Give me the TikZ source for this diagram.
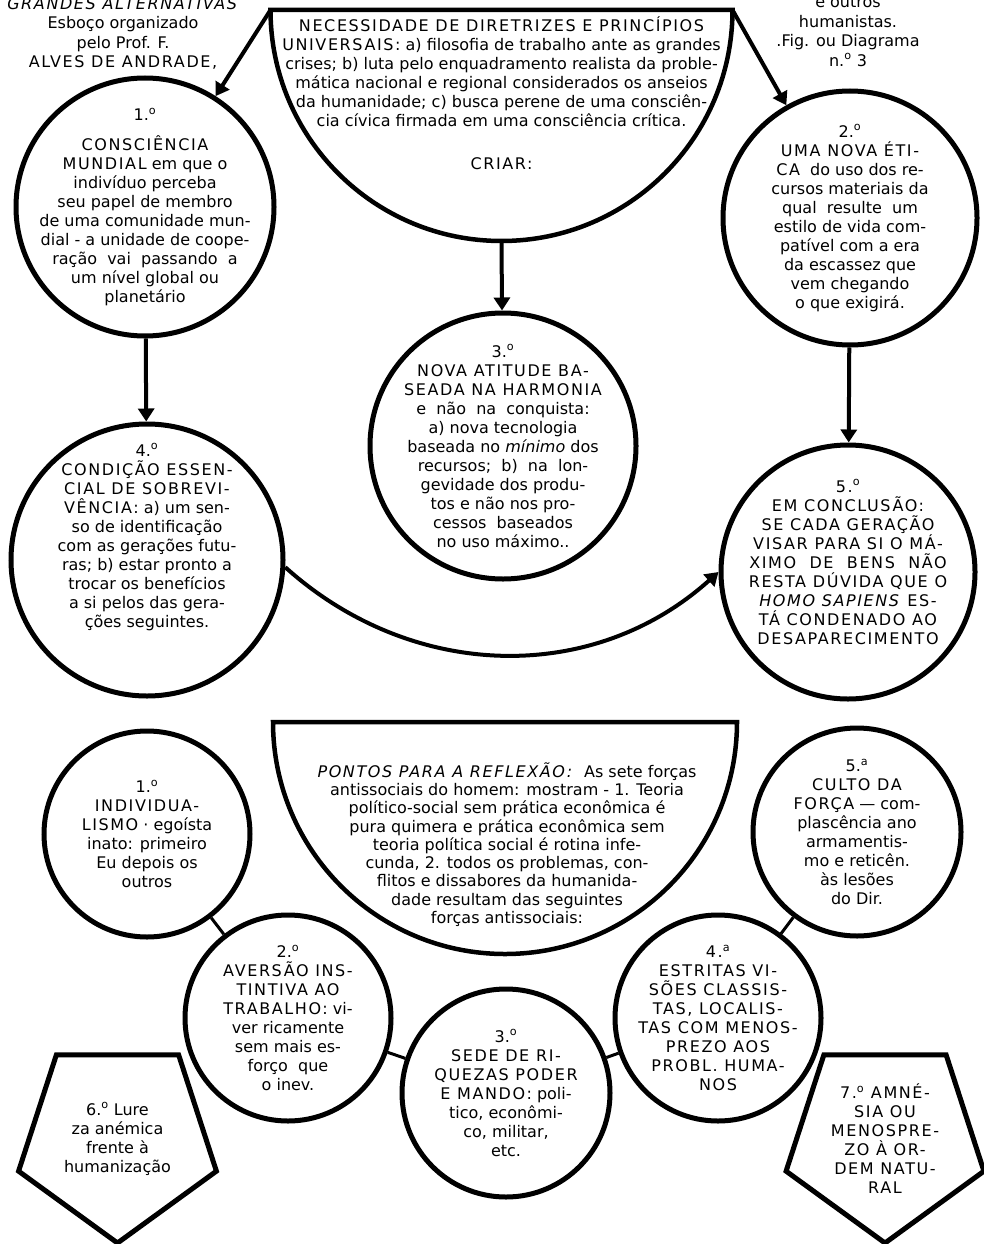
\documentclass[tikz,border=0pt]{standalone}
\usepackage{fontspec}
\setmainfont{DejaVu Sans}
\newfontfamily\capsf[LetterSpace=10]{DejaVu Sans}
\usetikzlibrary{arrows.meta, shapes.geometric, positioning}
\newcommand{\cp}[1]{{\capsf #1}}
\newcommand{\ordo}{\textsuperscript{o}}
\newcommand{\orda}{\textsuperscript{a}}
\newcommand{\bodyfont}{\fontsize{16pt}{19pt}\selectfont}
\newcommand{\headfont}{\fontsize{16pt}{19.5pt}\selectfont}
\newcommand{\pontosfont}{\fontsize{16pt}{18.3pt}\selectfont}

\tikzset{
  ring/.style={circle, draw, line width=5pt, inner sep=-45pt, minimum size=#1, align=center, font=\bodyfont},
  penta/.style={regular polygon, regular polygon sides=5, shape border rotate=180, draw, line width=5pt, inner sep=0pt, minimum size=208pt, align=center, font=\bodyfont},
  bowl/.style={draw, line width=4.5pt},
  note/.style={align=center, inner sep=0pt, font=\bodyfont},
  arr/.style={-{Triangle[width=16pt,length=13pt]}, line width=4pt},
  link/.style={line width=3pt}
}

\begin{document}
\begin{tikzpicture}[x=1pt, y=1pt]
\useasboundingbox (0,0) rectangle (983,-1244);

\node[note, font=\headfont] (author) at (123,-33.5) {\cp{\textit{GRANDES ALTERNATIVAS}}\\ Esboço organizado\\ pelo Prof. F.\\ \cp{ALVES DE ANDRADE,}};
\node[note, font=\headfont] (figref) at (848,-31.5) {e outros\\ humanistas.\\ .Fig. ou Diagrama\\ n.\ordo{} 3};

\coordinate (needL) at (270.5,-10);
\coordinate (needR) at (732.5,-10);
\coordinate (needB) at (501.5,-241);
\draw[bowl] (needL) -- (needR) arc[start angle=0, end angle=-180, radius=231pt] -- cycle;
\node[note] (need) at (501.5,-93.5) {\cp{NECESSIDADE DE DIRETRIZES E PRINCÍPIOS}\\
  \cp{UNIVERSAIS:} a) filosofia de trabalho ante as grandes\\
  crises; b) luta pelo enquadramento realista da proble-\\
  mática nacional e regional considerados os anseios\\
  da humanidade; c) busca perene de uma consciên-\\
  cia cívica firmada em uma consciência crítica.\\[24pt]
  \cp{CRIAR:}};

\node[ring=258pt] (c1) at (145,-207) {1.\ordo\\[11pt] \cp{CONSCIÊNCIA}\\ \cp{MUNDIAL} em que o\\ indivíduo perceba\\ seu papel de membro\\ de uma comunidade mun-\\ dial - a unidade de coope-\\ ração\ \ vai\ \ passando\ \ a\\ um nível global ou\\ planetário};
\node[ring=254pt] (c2) at (850,-218) {2.\ordo\\ \cp{UMA NOVA ÉTI-}\\ \cp{CA}\ \ do uso dos re-\\ cursos materiais da\\ qual\ \ resulte\ \ um\\ estilo de vida com-\\ patível com a era\\ da escassez que\\ vem chegando\\ o que exigirá.};
\node[ring=266pt] (c3) at (503,-446) {3.\ordo\\ \cp{NOVA ATITUDE BA-}\\ \cp{SEADA NA HARMONIA}\\ e\ \ não\ \ na\ \ conquista:\\ a) nova tecnologia\\ baseada no \textit{mínimo} dos\\ recursos;\ \ b)\ \ na\ \ lon-\\ gevidade dos produ-\\ tos e não nos pro-\\ cessos\ \ baseados\\ no uso máximo..};
\node[ring=272pt, inner sep=0pt] (c4) at (147,-560) {};
\node[note] (t4) at (147,-537) {4.\ordo\\ \cp{CONDIÇÃO ESSEN-}\\ \cp{CIAL DE SOBREVI-}\\ \cp{VÊNCIA:} a) um sen-\\ so de identificação\\ com as gerações futu-\\ ras; b) estar pronto a\\ trocar os benefícios\\ a si pelos das gera-\\ ções seguintes.};
\node[ring=254pt, inner sep=0pt] (c5) at (848,-572) {};
\node[note, font=\bodyfont\capsf] (t5) at (848,-562) {5.\ordo\\ EM CONCLUSÃO:\\ SE CADA GERAÇÃO\\ VISAR PARA SI O MÁ-\\ XIMO\ \ DE\ \ BENS\ \ NÃO\\ RESTA DÚVIDA QUE O\\ \textit{HOMO SAPIENS} ES-\\ TÁ CONDENADO AO\\ DESAPARECIMENTO};

\draw[arr] (needL) -- (c1);
\draw[arr] (needR) -- (c2);
\draw[arr] (needB) -- (c3);
\draw[arr] (c1) -- (c4);
\draw[arr] (c2) -- (c5);
\draw[arr] (c4.-3) to[out=-42, in=222] (c5.west);

\coordinate (ptsL) at (273,-722);
\coordinate (ptsR) at (737,-722);
\draw[bowl] (ptsL) -- (ptsR) arc[start angle=0, end angle=-180, radius=232pt] -- cycle;
\node[note, font=\pontosfont] (pts) at (507,-844.5) {\cp{\textit{PONTOS PARA A REFLEXÃO:}}\ \ As sete forças\\
  antissociais do homem: mostram - 1. Teoria\\
  político-social sem prática econômica é\\
  pura quimera e prática econômica sem\\
  teoria política social é rotina infe-\\
  cunda, 2. todos os problemas, con-\\
  flitos e dissabores da humanida-\\
  dade resultam das seguintes\\
  forças antissociais:};

\node[ring=206pt] (b1) at (147,-834) {1.\ordo\\ \cp{INDIVIDUA-}\\ \cp{LISMO} · egoísta\\ inato: primeiro\\ Eu depois os\\ outros};
\node[ring=206pt] (b2) at (288,-1018) {2.\ordo\\ \cp{AVERSÃO INS-}\\ \cp{TINTIVA AO}\\ \cp{TRABALHO:} vi-\\ ver ricamente\\ sem mais es-\\ forço\ \ que\\ o inev.};
\node[ring=208pt] (b3) at (506,-1093) {3.\ordo\\ \cp{SEDE DE RI-}\\ \cp{QUEZAS PODER}\\ \cp{E MANDO:} poli-\\ tico, econômi-\\ co, militar,\\ etc.};
\node[ring=206pt, font=\bodyfont\capsf] (b4) at (718,-1018) {4.\orda\\ ESTRITAS VI-\\ SÕES CLASSIS-\\ TAS, LOCALIS-\\ TAS COM MENOS-\\ PREZO AOS\\ PROBL. HUMA-\\ NOS};
\node[ring=208pt] (b5) at (857,-832) {5.\orda\\ \cp{CULTO DA}\\ \cp{FORÇA} — com-\\ plascência ano\\ armamentis-\\ mo e reticên.\\ às lesões\\ do Dir.};

\draw[link] (b1) -- (b2);
\draw[link] (b2) -- (b3);
\draw[link] (b3) -- (b4);
\draw[link] (b4) -- (b5);

\node[penta] (p6) at (117.5,-1139) {6.\ordo{} Lure\\ za anémica\\ frente à\\ humanização};
\node[penta, font=\bodyfont\capsf] (p7) at (885,-1139) {7.\ordo{} AMNÉ-\\ SIA OU\\ MENOSPRE-\\ ZO À OR-\\ DEM NATU-\\ RAL};
\end{tikzpicture}
\end{document}
